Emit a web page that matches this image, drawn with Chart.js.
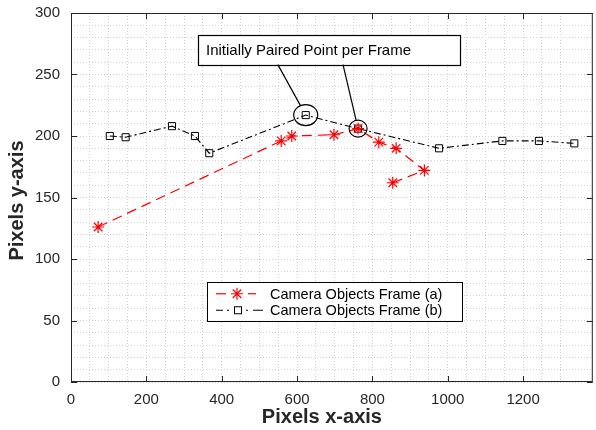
<!DOCTYPE html>
<html>
<head>
<meta charset="utf-8">
<script src="https://cdn.jsdelivr.net/npm/chart.js@4/dist/chart.umd.min.js"></script>
<style>
  html, body { margin: 0; padding: 0; background: #fff; overflow: hidden; }
  canvas { display: block; }
</style>
</head>
<body>
<canvas id="pairChart" width="600" height="430"></canvas>
<script>
const FONT = '"Liberation Sans", Arial, Helvetica, sans-serif';

// camera objects, frame (a): red asterisks, dashed
const frameAX = [72, 558, 586, 698, 762, 817, 863, 938, 854];
const frameAY = [126, 196, 200, 201, 206, 195, 190, 172, 162];

// camera objects, frame (b): black squares, dash-dot
const frameBX = [103, 145, 268, 329, 367, 623, 762, 977, 1145, 1242, 1336];
const frameBY = [200, 199, 208, 200, 186, 217, 206, 190, 196, 196, 194];

// points of frame (b) circled as the initial pairs
const pairedIdx = [5, 6];

const xTickLabels = [0, 200, 400, 600, 800, 1000, 1200];
const yTickLabels = [0, 50, 100, 150, 200, 250, 300];
const seriesNames = ['Camera Objects Frame (a)', 'Camera Objects Frame (b)'];
const noteText = 'Initially Paired Point per Frame';

const toPoints = (xs, ys) => xs.map((v, i) => ({ x: v, y: ys[i] }));

const drawStar = (ctx, cx, cy, r) => {
  ctx.beginPath();
  for (let k = 0; k < 4; k++) {
    const ang = k * Math.PI / 4;
    ctx.moveTo(cx - r * Math.cos(ang), cy - r * Math.sin(ang));
    ctx.lineTo(cx + r * Math.cos(ang), cy + r * Math.sin(ang));
  }
  ctx.stroke();
};

const line = (ctx, x1, y1, x2, y2) => {
  ctx.beginPath();
  ctx.moveTo(x1, y1);
  ctx.lineTo(x2, y2);
  ctx.stroke();
};

// keep the plot box fixed, labels may overflow into the margins
const noScalePadding = s => {
  s.paddingTop = s.paddingBottom = s.paddingLeft = s.paddingRight = 0;
};

// frame, inward ticks, note with callouts, legend and axis titles
const decor = {
  id: 'decor',
  afterDraw(chart) {
    const { ctx, chartArea: a, scales: { x, y } } = chart;
    ctx.save();
    ctx.setLineDash([]);
    ctx.strokeStyle = '#262626';
    ctx.lineWidth = 1;

    // axes box
    ctx.strokeRect(a.left + 0.5, a.top + 0.5, a.right - a.left - 1, a.bottom - a.top - 1);

    // ticks pointing inside
    const tl = 6;
    xTickLabels.forEach(v => {
      const px = Math.round(x.getPixelForValue(v)) + 0.5;
      line(ctx, px, a.bottom, px, a.bottom - tl);
      line(ctx, px, a.top, px, a.top + tl);
    });
    yTickLabels.forEach(v => {
      const py = Math.round(y.getPixelForValue(v)) + 0.5;
      line(ctx, a.left, py, a.left + tl, py);
      line(ctx, a.right, py, a.right - tl, py);
    });

    // note box
    const bx0 = x.getPixelForValue(337), bx1 = x.getPixelForValue(1033);
    const by0 = y.getPixelForValue(282), by1 = y.getPixelForValue(258);
    ctx.fillStyle = '#fff';
    ctx.fillRect(bx0, by0, bx1 - bx0, by1 - by0);
    ctx.strokeStyle = '#000';
    ctx.lineWidth = 1.2;
    ctx.strokeRect(Math.round(bx0) + 0.5, Math.round(by0) + 0.5, Math.round(bx1 - bx0), Math.round(by1 - by0));
    ctx.fillStyle = '#000';
    ctx.font = '15px ' + FONT;
    ctx.textBaseline = 'middle';
    ctx.textAlign = 'left';
    ctx.fillText(noteText, bx0 + 8, (by0 + by1) / 2 + 1);

    // circles round the paired points and the callout lines
    const radii = [[12, 10.5], [9, 8.5]];
    const startX = [549, 722];
    pairedIdx.forEach((idx, k) => {
      const cx = x.getPixelForValue(frameBX[idx]);
      const cy = y.getPixelForValue(frameBY[idx]);
      const [rx, ry] = radii[k];
      ctx.beginPath();
      ctx.ellipse(cx, cy, rx, ry, 0, 0, Math.PI * 2);
      ctx.stroke();
      const sx = x.getPixelForValue(startX[k]);
      const dx = sx - cx, dy = by1 - cy;
      const t = 1 / Math.sqrt((dx / rx) ** 2 + (dy / ry) ** 2);
      line(ctx, sx, by1, cx + dx * t, cy + dy * t);
    });

    // legend
    const lx0 = x.getPixelForValue(361), lx1 = x.getPixelForValue(1038);
    const ly0 = y.getPixelForValue(81.5), ly1 = y.getPixelForValue(50);
    ctx.fillStyle = '#fff';
    ctx.fillRect(lx0, ly0, lx1 - lx0, ly1 - ly0);
    ctx.strokeStyle = '#000';
    ctx.lineWidth = 1;
    ctx.strokeRect(Math.round(lx0) + 0.5, Math.round(ly0) + 0.5, Math.round(lx1 - lx0), Math.round(ly1 - ly0));
    const r1 = ly0 + 12, r2 = ly0 + 28.5;
    ctx.strokeStyle = '#ff0000';
    ctx.lineWidth = 1.2;
    line(ctx, lx0 + 9, r1, lx0 + 19, r1);
    line(ctx, lx0 + 41, r1, lx0 + 49, r1);
    drawStar(ctx, lx0 + 30, r1, 6);
    ctx.strokeStyle = '#000';
    ctx.lineWidth = 1;
    line(ctx, lx0 + 9, r2, lx0 + 16, r2);
    line(ctx, lx0 + 20, r2, lx0 + 22, r2);
    line(ctx, lx0 + 39, r2, lx0 + 41, r2);
    line(ctx, lx0 + 46, r2, lx0 + 56, r2);
    ctx.strokeRect(lx0 + 27.5, r2 - 3.5, 7, 7);
    ctx.fillStyle = '#000';
    ctx.font = '14.5px ' + FONT;
    ctx.fillText(seriesNames[0], lx0 + 63, r1 + 1);
    ctx.fillText(seriesNames[1], lx0 + 63, r2 + 1);

    // axis titles
    ctx.fillStyle = '#262626';
    ctx.font = 'bold 20px ' + FONT;
    ctx.textAlign = 'center';
    ctx.fillText('Pixels x-axis', (a.left + a.right) / 2 - 10, 417);
    ctx.translate(17, (a.top + a.bottom) / 2 + 3);
    ctx.rotate(-Math.PI / 2);
    ctx.fillText('Pixels y-axis', 0, 0);
    ctx.restore();
  }
};

const ctx = document.getElementById('pairChart').getContext('2d');
new Chart(ctx, {
  type: 'line',
  data: {
    datasets: [
      {
        label: seriesNames[0],
        data: toPoints(frameAX, frameAY),
        borderColor: '#ff0000',
        borderWidth: 1.2,
        borderDash: [10, 6],
        pointStyle: 'star',
        pointRadius: 6,
        pointBorderColor: '#ff0000',
        pointBorderWidth: 1.2,
        fill: false,
        tension: 0
      },
      {
        label: seriesNames[1],
        data: toPoints(frameBX, frameBY),
        borderColor: '#000',
        borderWidth: 1.1,
        borderDash: [7, 3, 2, 3],
        pointStyle: 'rect',
        pointRadius: 5,
        pointBackgroundColor: 'rgba(0,0,0,0)',
        pointBorderColor: '#000',
        pointBorderWidth: 1,
        fill: false,
        tension: 0
      }
    ]
  },
  options: {
    responsive: false,
    animation: false,
    layout: { padding: { top: 13, right: 3, left: 0, bottom: 0 } },
    plugins: { legend: { display: false }, tooltip: { enabled: false } },
    scales: {
      x: {
        type: 'linear',
        min: 0,
        max: 1385,
        afterFit: s => { s.height = 48; noScalePadding(s); },
        grid: { color: '#d2d2d2', lineWidth: 1, drawTicks: false },
        border: { display: false, dash: [1, 2] },
        ticks: {
          stepSize: 50,
          autoSkip: false,
          maxRotation: 0,
          padding: 9,
          color: '#262626',
          font: { family: FONT, size: 15 },
          callback: v => xTickLabels.includes(v) ? v : ''
        }
      },
      y: {
        min: 0,
        max: 300,
        afterFit: s => { s.width = 71; noScalePadding(s); },
        grid: { color: '#d2d2d2', lineWidth: 1, drawTicks: false },
        border: { display: false, dash: [1, 2] },
        ticks: {
          stepSize: 10,
          autoSkip: false,
          padding: 11,
          color: '#262626',
          font: { family: FONT, size: 15 },
          callback: v => yTickLabels.includes(v) ? v : ''
        }
      }
    }
  },
  plugins: [decor]
});
</script>
</body>
</html>
